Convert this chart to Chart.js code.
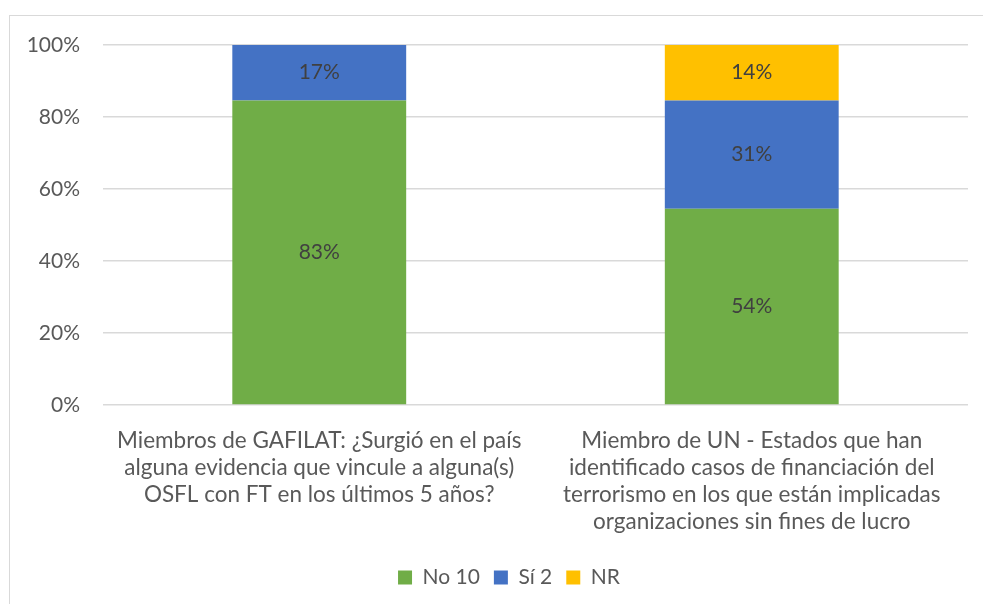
<!DOCTYPE html>
<html>
<head>
<meta charset="utf-8">
<script src="https://cdn.jsdelivr.net/npm/chart.js@4"></script>
<style>
  html, body { margin: 0; padding: 0; background: #fff; }
  #wrap { position: relative; width: 983px; height: 604px; }
  #frame { position: absolute; left: 9px; top: 15px; right: -5px; bottom: -5px; border-left: 1.5px solid #d9d9d9; border-top: 1.5px solid #d9d9d9; pointer-events: none; }
  canvas { position: absolute; left: 0; top: 0; }
</style>
</head>
<body>
<div id="wrap">
  <canvas id="c" width="983" height="604"></canvas>
  <div id="frame"></div>
</div>
<script>
// Categories (multi-line labels)
const categories = [
  ["Miembros de GAFILAT: ¿Surgió en el país", "alguna evidencia que vincule a alguna(s)", "OSFL con FT en los últimos 5 años?"],
  ["Miembro de UN - Estados que han", "identificado casos de financiación del", "terrorismo en los que están implicadas", "organizaciones sin fines de lucro"]
];
// Series names
const seriesNames = ["No 10", "Sí 2", "NR"];
// Bar segment heights (share of 100%)
const noValues  = [84.6, 54.5];
const siValues  = [15.4, 30.1];
const nrValues  = [0,    15.4];
// Data label texts shown on the bars
const noLabels  = ["83%", "54%"];
const siLabels  = ["17%", "31%"];
const nrLabels  = ["",    "14%"];
// Y tick values
const yTicks = [0, 20, 40, 60, 80, 100];

const FONT = "Lato, 'Open Sans', sans-serif";
const FS = 21;

const dataLabelPlugin = {
  id: 'dataLabels',
  afterLayout(chart) {
    // Excel-like legend offset to the right
    if (chart.legend) { chart.legend.left += 25; chart.legend.right += 25; }
  },
  afterDatasetsDraw(chart) {
    const ctx = chart.ctx;
    ctx.save();
    ctx.font = FS + "px " + FONT;
    ctx.fillStyle = "#404040";
    ctx.textAlign = "center";
    ctx.textBaseline = "middle";
    chart.data.datasets.forEach((ds, i) => {
      const meta = chart.getDatasetMeta(i);
      meta.data.forEach((bar, j) => {
        const txt = ds.labelsText[j];
        if (!txt || !ds.data[j]) return;
        ctx.fillText(txt, bar.x, (bar.y + bar.base) / 2);
      });
    });
    ctx.restore();
  }
};

new Chart(document.getElementById('c'), {
  type: 'bar',
  data: {
    labels: categories,
    datasets: [
      { label: seriesNames[0], data: noValues, labelsText: noLabels, backgroundColor: '#70AD47' },
      { label: seriesNames[1], data: siValues, labelsText: siLabels, backgroundColor: '#4472C4' },
      { label: seriesNames[2], data: nrValues, labelsText: nrLabels, backgroundColor: '#FFC000' }
    ]
  },
  options: {
    responsive: false,
    animation: false,
    devicePixelRatio: 1,
    layout: { padding: { left: 0, right: 15, top: 45, bottom: 6 } },
    datasets: { bar: { categoryPercentage: 1.0, barPercentage: 0.402, borderWidth: 0 } },
    plugins: {
      tooltip: { enabled: false },
      legend: {
        position: 'bottom',
        labels: {
          boxWidth: 14, boxHeight: 14, padding: 14,
          color: '#595959',
          font: { family: FONT, size: FS }
        }
      }
    },
    scales: {
      x: {
        stacked: true,
        grid: { display: false, drawTicks: false },
        border: { display: false },
        ticks: {
          maxRotation: 0, minRotation: 0, autoSkip: false,
          padding: 22,
          color: '#595959',
          font: { family: FONT, size: 22.5, lineHeight: 1.2 }
        },
        afterFit(scale) { scale.height = 148; }
      },
      y: {
        stacked: true,
        min: 0, max: 100,
        afterBuildTicks(scale) { scale.ticks = yTicks.map(v => ({ value: v })); },
        grid: { color: '#d9d9d9', lineWidth: 1.5, drawTicks: false },
        border: { display: false },
        ticks: {
          padding: 23,
          color: '#595959',
          font: { family: FONT, size: FS },
          callback: v => v + '%'
        },
        afterFit(scale) { scale.width = 103; }
      }
    }
  },
  plugins: [dataLabelPlugin]
});
</script>
</body>
</html>
